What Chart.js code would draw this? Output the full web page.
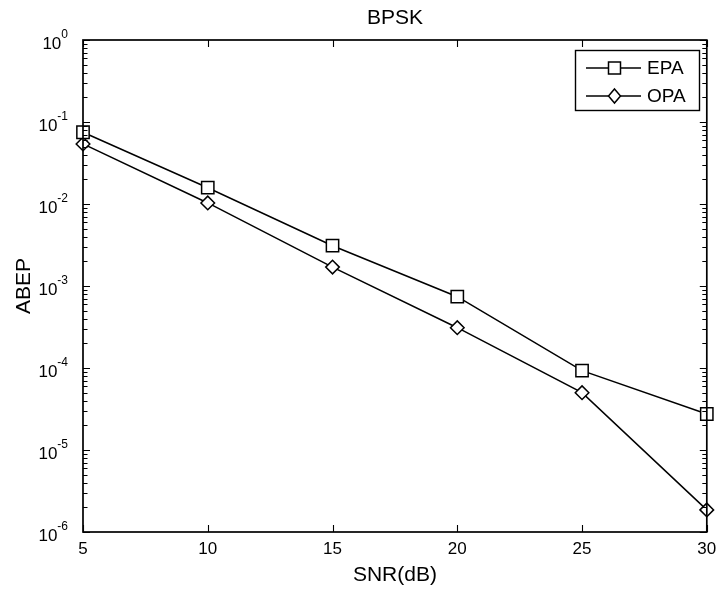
<!DOCTYPE html>
<html>
<head>
<meta charset="utf-8">
<script src="https://cdn.jsdelivr.net/npm/chart.js@4/dist/chart.umd.min.js"></script>
<style>
html,body{margin:0;padding:0;background:#fff;}
#wrap{width:717px;height:590px;}
</style>
</head>
<body>
<div id="wrap"><canvas id="c" width="717" height="590"></canvas></div>
<script>
const snr = [5, 10, 15, 20, 25, 30];
const epa = [0.075, 0.0158, 0.0031, 0.00074, 0.000093, 0.0000275];
const opa = [0.054, 0.0103, 0.0017, 0.00031, 0.00005, 0.00000186];
const xTicks = [5, 10, 15, 20, 25, 30];
const yDecades = [0, -1, -2, -3, -4, -5, -6];
const chartTitle = 'BPSK';
const xTitle = 'SNR(dB)';
const yTitle = 'ABEP';
const seriesNames = ['EPA', 'OPA'];

const FONT = '"Liberation Sans", Arial, sans-serif';

const axesPlugin = {
  id: 'matlabAxes',
  afterDatasetsDraw(chart) {
    const ctx = chart.ctx;
    const a = chart.chartArea;
    const xs = chart.scales.x, ys = chart.scales.y;
    ctx.save();
    ctx.strokeStyle = '#000';
    ctx.fillStyle = '#000';
    ctx.lineWidth = 1.7;
    ctx.strokeRect(a.left, a.top, a.right - a.left, a.bottom - a.top);
    ctx.lineWidth = 1.1;
    const majorLen = 7, minorLen = 4.5;
    ctx.beginPath();
    xTicks.forEach(v => {
      const px = Math.round(xs.getPixelForValue(v)) + 0.5;
      ctx.moveTo(px, a.bottom); ctx.lineTo(px, a.bottom - majorLen);
      ctx.moveTo(px, a.top); ctx.lineTo(px, a.top + majorLen);
    });
    yDecades.forEach(d => {
      const py = Math.round(ys.getPixelForValue(Math.pow(10, d))) + 0.5;
      ctx.moveTo(a.left, py); ctx.lineTo(a.left + majorLen, py);
      ctx.moveTo(a.right, py); ctx.lineTo(a.right - majorLen, py);
      if (d > -6) {
        for (let m = 2; m <= 9; m++) {
          const v = m * Math.pow(10, d - 1);
          const p = Math.round(ys.getPixelForValue(v)) + 0.5;
          ctx.moveTo(a.left, p); ctx.lineTo(a.left + minorLen, p);
          ctx.moveTo(a.right, p); ctx.lineTo(a.right - minorLen, p);
        }
      }
    });
    ctx.stroke();
    // x tick labels
    ctx.font = '17px ' + FONT;
    ctx.textAlign = 'center';
    ctx.textBaseline = 'alphabetic';
    xTicks.forEach(v => {
      ctx.fillText(String(v), xs.getPixelForValue(v), a.bottom + 22);
    });
    // y tick labels with superscript exponent
    yDecades.forEach(d => {
      const py = ys.getPixelForValue(Math.pow(10, d));
      const exp = d === 0 ? '0' : '-' + String(-d);
      ctx.font = '12px ' + FONT;
      const ew = ctx.measureText(exp).width;
      const right = 68;
      ctx.textAlign = 'left';
      ctx.fillText(exp, right - ew, py - 2);
      ctx.font = '17px ' + FONT;
      ctx.textAlign = 'right';
      ctx.fillText('10', right - ew, py + 9);
    });
    // titles
    ctx.textAlign = 'center';
    ctx.textBaseline = 'middle';
    ctx.font = '21px ' + FONT;
    const cx = (a.left + a.right) / 2;
    ctx.fillText(chartTitle, cx, 18);
    ctx.fillText(xTitle, cx, 575);
    ctx.save();
    ctx.translate(24, (a.top + a.bottom) / 2);
    ctx.rotate(-Math.PI / 2);
    ctx.fillText(yTitle, 0, 0);
    ctx.restore();
    // legend
    const lx = 575.5, ly = 50.5, lw = 124, lh = 60;
    ctx.fillStyle = '#fff';
    ctx.fillRect(lx, ly, lw, lh);
    ctx.strokeStyle = '#000';
    ctx.lineWidth = 1.4;
    ctx.strokeRect(lx, ly, lw, lh);
    const rows = [68, 96];
    chart.data.datasets.forEach((ds, i) => {
      const y = rows[i];
      ctx.lineWidth = 1.4;
      ctx.beginPath();
      ctx.moveTo(586, y); ctx.lineTo(641, y);
      ctx.stroke();
      ctx.fillStyle = '#fff';
      ctx.lineWidth = 1.5;
      ctx.beginPath();
      if (ds.pointStyle === 'rect') {
        ctx.rect(608.5, y - 6, 12, 12);
      } else {
        ctx.moveTo(614.5, y - 7); ctx.lineTo(620.5, y); ctx.lineTo(614.5, y + 7); ctx.lineTo(608.5, y); ctx.closePath();
      }
      ctx.fill(); ctx.stroke();
      ctx.fillStyle = '#000';
      ctx.font = '19px ' + FONT;
      ctx.textAlign = 'left';
      ctx.textBaseline = 'middle';
      ctx.fillText(ds.label, 647, y + 1);
    });
    ctx.restore();
  }
};

new Chart(document.getElementById('c'), {
  type: 'line',
  data: {
    labels: snr,
    datasets: [
      {
        label: seriesNames[0],
        data: snr.map((x, i) => ({x: x, y: epa[i]})),
        borderColor: '#000', borderWidth: 1.5,
        pointStyle: 'rect', pointRadius: 8.7, pointBorderWidth: 1.5,
        pointBorderColor: '#000', pointBackgroundColor: '#fff',
        tension: 0, clip: false, fill: false
      },
      {
        label: seriesNames[1],
        data: snr.map((x, i) => ({x: x, y: opa[i]})),
        borderColor: '#000', borderWidth: 1.5,
        pointStyle: 'rectRot', pointRadius: 6.8, pointBorderWidth: 1.5,
        pointBorderColor: '#000', pointBackgroundColor: '#fff',
        tension: 0, clip: false, fill: false
      }
    ]
  },
  options: {
    responsive: false,
    animation: false,
    devicePixelRatio: 1,
    layout: { padding: { left: 83, right: 9, top: 40, bottom: 58 } },
    plugins: { legend: { display: false }, title: { display: false }, tooltip: { enabled: false } },
    scales: {
      x: {
        type: 'linear', min: 5, max: 30,
        grid: { display: false }, border: { display: false },
        ticks: { display: false, stepSize: 5 },
        afterFit(s) { s.height = 0; }
      },
      y: {
        type: 'logarithmic', min: 1e-6, max: 1,
        grid: { display: false }, border: { display: false },
        ticks: { display: false },
        afterFit(s) { s.width = 0; }
      }
    }
  },
  plugins: [axesPlugin]
});
</script>
</body>
</html>
